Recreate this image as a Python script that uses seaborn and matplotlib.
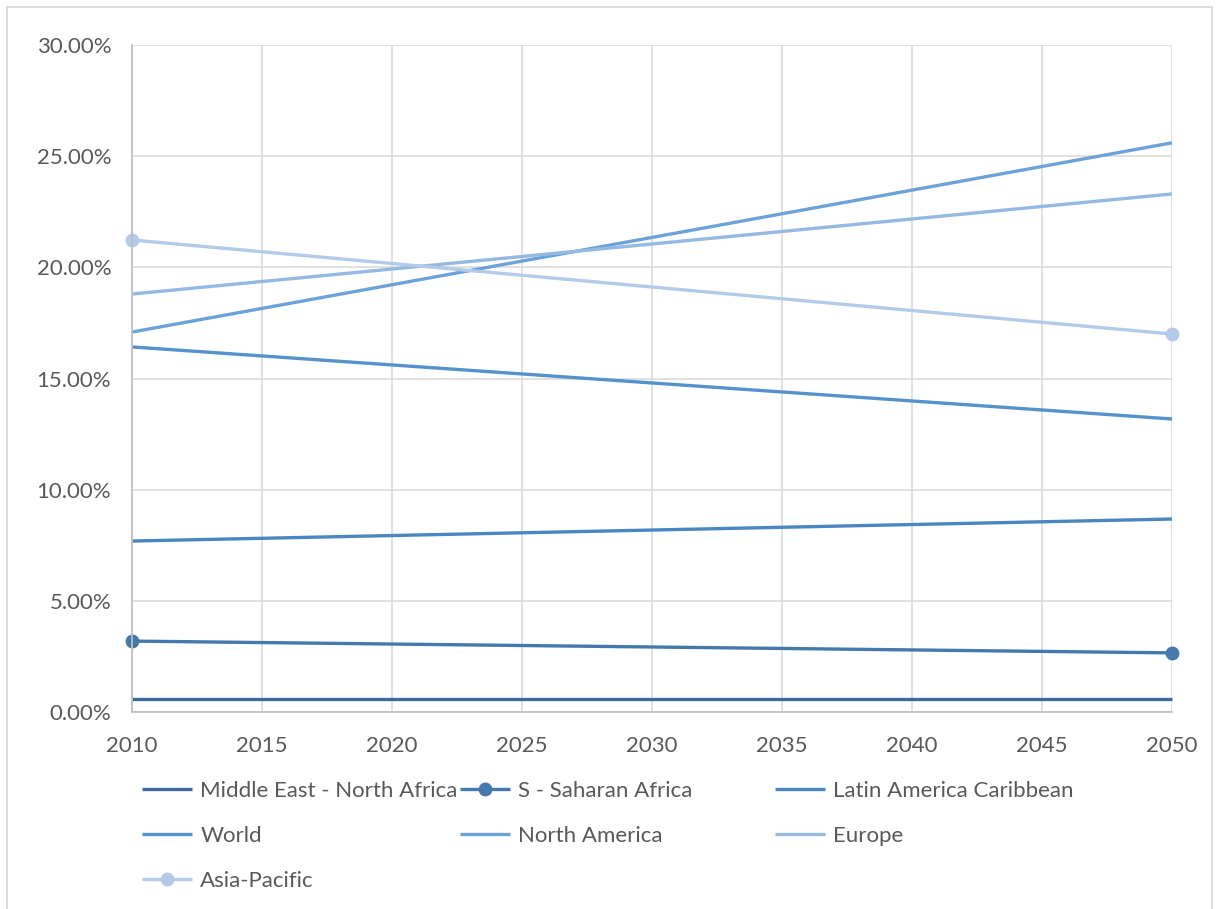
import matplotlib
matplotlib.use("Agg")
import matplotlib.pyplot as plt
import matplotlib.ticker as mticker
from matplotlib.patches import Rectangle
import seaborn as sns
import pandas as pd

sns.set_theme(style="white")
plt.rcParams["font.family"] = ["Lato", "DejaVu Sans"]

years = [2010, 2050]
regions = [
    "Middle East - North Africa",
    "S - Saharan Africa",
    "Latin America Caribbean",
    "World",
    "North America",
    "Europe",
    "Asia-Pacific",
]
middle_east = [0.0058, 0.0058]
sub_saharan = [0.0319, 0.0266]
latin_america = [0.0769, 0.0868]
world = [0.1642, 0.1318]
north_america = [0.1709, 0.2560]
europe = [0.1880, 0.2330]
asia_pacific = [0.2123, 0.1700]

series = [middle_east, sub_saharan, latin_america, world,
          north_america, europe, asia_pacific]
colors = ["#3D6A98", "#4479AC", "#4A87C2", "#5592CC",
          "#6DA2D8", "#95B9E1", "#B3CBE8"]
with_marker = [False, True, False, False, False, False, True]

df = pd.DataFrame(
    [(r, y, v) for r, vals in zip(regions, series) for y, v in zip(years, vals)],
    columns=["region", "year", "share"],
)

fig = plt.figure(figsize=(12.16, 9.09), dpi=100)
ax = fig.add_axes([0.1086, 0.2167, 0.8552, 0.7338])

handles = {}
for name, col, mk in zip(regions, colors, with_marker):
    sub = df[df["region"] == name]
    sns.lineplot(data=sub, x="year", y="share", ax=ax, color=col,
                 linewidth=2.4, marker="o" if mk else None,
                 markersize=10, markeredgewidth=0, legend=False)
    line = ax.lines[-1]
    line.set_clip_on(False)
    line.set_solid_capstyle("butt")
    handles[name] = line

ax.set_xlim(2010, 2050)
ax.set_ylim(0, 0.30)
ax.set_xticks(range(2010, 2051, 5))
ax.set_yticks([0, 0.05, 0.10, 0.15, 0.20, 0.25, 0.30])
ax.yaxis.set_major_formatter(mticker.FuncFormatter(lambda v, p: f"{v*100:.2f}%"))
ax.set_xlabel("")
ax.set_ylabel("")
ax.grid(True, color="#D9D9D9", linewidth=1.1)
ax.set_axisbelow(True)
for side in ["top", "right"]:
    ax.spines[side].set_visible(False)
for side in ["left", "bottom"]:
    ax.spines[side].set_color("#BFBFBF")
    ax.spines[side].set_linewidth(1.3)
ax.tick_params(axis="both", length=0, labelsize=16, colors="#595959")
ax.tick_params(axis="y", pad=15)
ax.tick_params(axis="x", pad=17)

# legend laid out as three evenly spaced columns
columns = [
    (0.117, ["Middle East - North Africa", "World", "Asia-Pacific"]),
    (0.378, ["S - Saharan Africa", "North America"]),
    (0.637, ["Latin America Caribbean", "Europe"]),
]
for x0, names in columns:
    fig.legend([handles[n] for n in names], names, loc="upper left",
               bbox_to_anchor=(x0, 0.141), frameon=False, fontsize=16,
               handlelength=2.25, handletextpad=0.36, labelspacing=1.12,
               borderaxespad=0, borderpad=0, labelcolor="#595959")

fig.patches.append(Rectangle((0.0058, -0.02), 0.9909, 1.0123, transform=fig.transFigure,
                             fill=False, edgecolor="#D9D9D9", linewidth=1.3))

fig.savefig("out.png", dpi=100)
